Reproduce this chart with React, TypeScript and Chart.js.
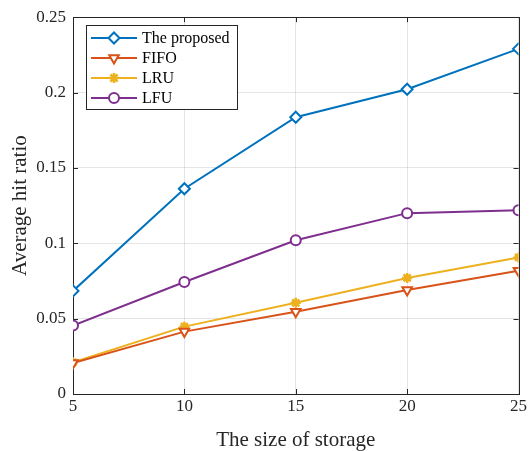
import React, { useEffect, useRef } from "react";
import { Chart, registerables } from "chart.js";
import { drawPoint } from "chart.js/helpers";

Chart.register(...registerables);

const storageSizes = [5, 10, 15, 20, 25];
const proposed = [0.0684, 0.1362, 0.1836, 0.2022, 0.229];
const fifo = [0.0205, 0.0414, 0.0546, 0.069, 0.0818];
const lru = [0.021, 0.0447, 0.0605, 0.077, 0.0906];
const lfu = [0.0454, 0.0743, 0.102, 0.12, 0.1219];
const seriesNames = ["The proposed", "FIFO", "LRU", "LFU"];
const xTicks = [5, 10, 15, 20, 25];
const yTicks = [0, 0.05, 0.1, 0.15, 0.2, 0.25];

const colors = ["#0072BD", "#D95319", "#EDB120", "#7E2F8E"];
const FONT = "'Liberation Serif', 'Times New Roman', serif";
const AXIS = "#262626";

const boxPlugin = {
  id: "matlabBox",
  beforeDatasetsDraw(chart: any) {
    const { ctx, chartArea: a, scales } = chart;
    ctx.save();
    ctx.strokeStyle = AXIS;
    ctx.lineWidth = 1;
    ctx.strokeRect(Math.round(a.left) + 0.5, Math.round(a.top) + 0.5, Math.round(a.right - a.left), Math.round(a.bottom - a.top));
    const tl = 5;
    ctx.beginPath();
    for (const v of xTicks) {
      const x = Math.round(scales.x.getPixelForValue(v)) + 0.5;
      ctx.moveTo(x, a.bottom);
      ctx.lineTo(x, a.bottom - tl);
      ctx.moveTo(x, a.top);
      ctx.lineTo(x, a.top + tl);
    }
    for (const v of yTicks) {
      const y = Math.round(scales.y.getPixelForValue(v)) + 0.5;
      ctx.moveTo(a.left, y);
      ctx.lineTo(a.left + tl, y);
      ctx.moveTo(a.right, y);
      ctx.lineTo(a.right - tl, y);
    }
    ctx.stroke();
    ctx.restore();
  },
};

const legendPlugin = {
  id: "matlabLegend",
  afterDraw(chart: any) {
    const { ctx } = chart;
    const bx = 86.5, by = 25.5, bw = 151, bh = 84;
    ctx.save();
    ctx.fillStyle = "#ffffff";
    ctx.fillRect(bx, by, bw, bh);
    ctx.strokeStyle = AXIS;
    ctx.lineWidth = 1;
    ctx.strokeRect(bx, by, bw, bh);
    chart.data.datasets.forEach((ds: any, i: number) => {
      const y = 38 + i * 20;
      ctx.strokeStyle = ds.borderColor;
      ctx.lineWidth = ds.borderWidth;
      ctx.beginPath();
      ctx.moveTo(91, y);
      ctx.lineTo(137, y);
      ctx.stroke();
      ctx.fillStyle = ds.pointBackgroundColor;
      ctx.strokeStyle = ds.borderColor;
      ctx.lineWidth = ds.pointBorderWidth;
      drawPoint(ctx, { pointStyle: ds.pointStyle, radius: ds.pointRadius, rotation: ds.pointRotation || 0, borderWidth: ds.pointBorderWidth }, 114, y);
      ctx.fillStyle = "#000000";
      ctx.font = `16px ${FONT}`;
      ctx.textBaseline = "middle";
      ctx.textAlign = "left";
      ctx.fillText(ds.label, 142, y + 1);
    });
    ctx.restore();
  },
};

export default function App() {
  const ref = useRef<HTMLCanvasElement>(null);
  useEffect(() => {
    document.body.style.margin = "0";
    const mk = (i: number, values: number[], style: string, radius: number, rot = 0, bw = 2) => ({
      label: seriesNames[i],
      data: storageSizes.map((x, k) => ({ x, y: values[k] })),
      borderColor: colors[i],
      backgroundColor: colors[i],
      borderWidth: 2,
      pointStyle: style,
      pointRadius: radius,
      pointRotation: rot,
      pointBorderWidth: bw,
      pointBorderColor: colors[i],
      pointBackgroundColor: style === "star" ? colors[i] : "#ffffff",
      tension: 0,
    });
    const chart = new Chart(ref.current!, {
      type: "line",
      data: {
        datasets: [
          mk(0, proposed, "rectRot", 5.5),
          mk(1, fifo, "triangle", 5.5, 180),
          mk(2, lru, "star", 5, 0, 2.5),
          mk(3, lfu, "circle", 5),
        ],
      },
      options: {
        responsive: false,
        animation: false,
        layout: { padding: { left: 0, top: 14, right: 9, bottom: 0 } },
        plugins: { legend: { display: false }, tooltip: { enabled: false } },
        scales: {
          x: {
            type: "linear",
            min: 5,
            max: 25,
            afterBuildTicks: (s: any) => { s.ticks = xTicks.map((v) => ({ value: v })); },
            afterFit: (s: any) => { s.height = 57; },
            ticks: { color: AXIS, font: { family: FONT, size: 17 }, padding: 2, maxRotation: 0 },
            grid: { color: "rgba(0,0,0,0.1)", drawTicks: false },
            border: { display: false },
            title: { display: true, text: "The size of storage", color: AXIS, font: { family: FONT, size: 21 }, padding: { top: 4, bottom: -2 } },
          },
          y: {
            type: "linear",
            min: 0,
            max: 0.25,
            afterBuildTicks: (s: any) => { s.ticks = yTicks.map((v) => ({ value: v })); },
            afterFit: (s: any) => { s.width = 73; },
            ticks: {
              color: AXIS,
              font: { family: FONT, size: 17 },
              padding: 7,
              callback: (v: any) => String(Number(Number(v).toFixed(2))),
            },
            grid: { color: "rgba(0,0,0,0.1)", drawTicks: false },
            border: { display: false },
            title: { display: true, text: "Average hit ratio", color: AXIS, font: { family: FONT, size: 21 }, padding: { top: 8, bottom: 2 } },
          },
        },
      },
      plugins: [boxPlugin, legendPlugin],
    } as any);
    return () => chart.destroy();
  }, []);
  return (
    <div style={{ position: "fixed", left: 0, top: 0, width: 529, height: 451, background: "#fff" }}>
      <canvas ref={ref} width={529} height={451} />
    </div>
  );
}
